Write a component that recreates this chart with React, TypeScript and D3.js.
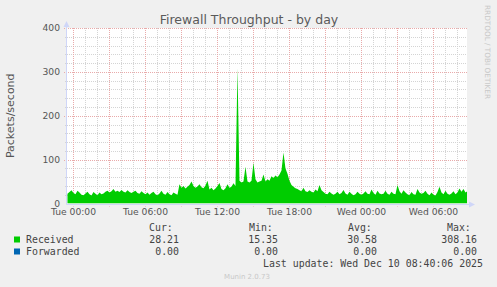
import React from 'react';
import * as d3 from 'd3';

const TITLE = 'Firewall Throughput - by day';
const Y_LABEL = 'Packets/second';
const WATERMARK = 'RRDTOOL / TOBI OETIKER';
const FOOTER = 'Munin 2.0.73';
const X_TICK_HOURS = [0, 6, 12, 18, 24, 30];
const X_TICK_LABELS = ['Tue 00:00', 'Tue 06:00', 'Tue 12:00', 'Tue 18:00', 'Wed 00:00', 'Wed 06:00'];
const Y_TICKS = [0, 100, 200, 300, 400];
const START_HOUR = -0.5; // Mon 23:30
const STEP_MIN = 10;

const RECEIVED = [
  22, 26, 30, 24, 21, 29, 25, 20, 19, 23, 27, 21, 18, 26, 22, 19, 25, 21, 23, 27,
  29, 25, 28, 33, 27, 29, 26, 31, 27, 25, 30, 26, 24, 27, 29, 24, 22, 28, 24, 21,
  25, 20, 24, 27, 21, 19, 23, 29, 22, 20, 26, 21, 19, 25, 22, 20, 44, 36, 40, 34,
  38, 42, 50, 40, 36, 39, 44, 37, 35, 41, 52, 32, 36, 30, 34, 40, 47, 33, 30, 35,
  44, 36, 38, 46, 40, 308, 52, 48, 50, 84, 50, 48, 52, 93, 55, 48, 50, 52, 66, 50,
  55, 52, 62, 58, 64, 60, 66, 75, 116, 80, 68, 52, 42, 38, 35, 33, 30, 28, 36, 28,
  26, 30, 27, 25, 32, 28, 42, 30, 26, 22, 21, 27, 23, 20, 22, 27, 21, 24, 31, 23,
  20, 27, 22, 19, 21, 27, 22, 20, 23, 28, 22, 21, 32, 24, 20, 29, 23, 21, 22, 29,
  22, 20, 27, 22, 21, 42, 28, 22, 30, 25, 21, 19, 26, 21, 20, 33, 25, 22, 24, 29,
  22, 19, 25, 20, 18, 26, 38, 25, 21, 29, 22, 20, 23, 28, 21, 25, 34, 27, 33, 25, 28,
];
const FORWARDED = RECEIVED.map(() => 0);

const SERIES_NAMES = ['Received', 'Forwarded'];
const SERIES_COLORS = ['#00cc00', '#0066b3'];
const CUR = ['28.21', '0.00'];
const MIN = ['15.35', '0.00'];
const AVG = ['30.58', '0.00'];
const MAX = ['308.16', '0.00'];
const LAST_UPDATE = 'Last update: Wed Dec 10 08:40:06 2025';

const W = 497;
const H = 287;
const PL = 67;
const PR = 467;
const PT = 28;
const PB = 203.5;

export default function App() {
  const x = d3.scaleLinear().domain([-0.54, -0.54 + 400 / 12]).range([PL, PR]);
  const y = d3.scaleLinear().domain([0, 400]).range([PB, PT]);
  const tHour = (i: number) => START_HOUR + (i * STEP_MIN) / 60;

  const area = d3
    .area<number>()
    .x((_, i) => x(tHour(i)))
    .y0(y(0))
    .y1((d) => y(d));

  const hours = d3.range(Math.ceil(x.domain()[0]), Math.floor(x.domain()[1]) + 1);
  const yGrid = d3.range(20, 401, 20);
  const px = (v: number) => Math.round(v) + 0.5;

  const sans = 'DejaVu Sans, sans-serif';
  const mono = 'DejaVu Sans Mono, monospace';
  const axisCol = '#cfd6f8';
  const majorCol = '#e9aaaa';
  const minorCol = '#d4d4d4';
  const textCol = '#555555';
  const legendCol = '#444444';

  const axisY = px(PB);
  const axisX = px(PL) - 1;

  return (
    <svg width={W} height={H} style={{ position: 'absolute', left: 0, top: 0 }}>
      <rect x={0} y={0} width={W} height={H} fill="#f0f0f0" />
      <rect x={PL} y={PT} width={PR - PL} height={PB - PT} fill="#ffffff" />
      <defs>
        <clipPath id="plot">
          <rect x={PL} y={PT - 2} width={PR - PL} height={PB - PT + 2} />
        </clipPath>
      </defs>
      {/* horizontal grid */}
      {yGrid.map((v) => {
        const major = v % 100 === 0;
        return (
          <line
            key={'h' + v}
            x1={PL - (major ? 3 : 2)}
            x2={PR}
            y1={px(y(v))}
            y2={px(y(v))}
            stroke={major ? majorCol : minorCol}
            strokeDasharray="1,1"
          />
        );
      })}
      {/* vertical grid */}
      {hours.map((h) => {
        const major = h % 3 === 0;
        return (
          <line
            key={'v' + h}
            x1={px(x(h))}
            x2={px(x(h))}
            y1={PT}
            y2={PB + (major ? 3 : 2)}
            stroke={major ? majorCol : minorCol}
            strokeDasharray="1,1"
          />
        );
      })}
      <g clipPath="url(#plot)">
        <path d={area(RECEIVED) || ''} fill={SERIES_COLORS[0]} />
        <path d={area(FORWARDED) || ''} fill={SERIES_COLORS[1]} />
      </g>
      {/* axes */}
      <line x1={axisX} x2={470} y1={axisY} y2={axisY} stroke={axisCol} />
      <polygon points={`469,${axisY - 3} 475,${axisY} 469,${axisY + 3}`} fill={axisCol} />
      <line x1={axisX} x2={axisX} y1={axisY} y2={24} stroke={axisCol} />
      <polygon points={`${axisX - 3},27 ${axisX},21 ${axisX + 3},27`} fill={axisCol} />
      {/* y tick labels */}
      {Y_TICKS.map((v) => (
        <text key={'yl' + v} x={60} y={y(v) + 3.3} textAnchor="end" fontFamily={sans} fontSize={9.2} fill={textCol}>
          {v}
        </text>
      ))}
      {/* x tick labels */}
      {X_TICK_HOURS.map((h, i) => (
        <text key={'xl' + h} x={x(h)} y={215} textAnchor="middle" fontFamily={sans} fontSize={9.2} fill={textCol}>
          {X_TICK_LABELS[i]}
        </text>
      ))}
      {/* title */}
      <text x={249} y={23.5} textAnchor="middle" fontFamily={sans} fontSize={12.5} fill="#5a5a5a">
        {TITLE}
      </text>
      {/* y label */}
      <text
        transform={`translate(13.5,${(PT + PB) / 2}) rotate(-90)`}
        textAnchor="middle"
        fontFamily={sans}
        fontSize={11}
        fill={textCol}
      >
        {Y_LABEL}
      </text>
      {/* watermark */}
      <text
        transform={`translate(485,5) rotate(90)`}
        textAnchor="start"
        fontFamily={sans}
        fontSize={7.3}
        fill="#c8c8c8"
      >
        {WATERMARK}
      </text>
      {/* legend */}
      <g fontFamily={mono} fontSize={9.9} fill={legendCol}>
        <text x={149} y={231}>Cur:</text>
        <text x={249} y={231}>Min:</text>
        <text x={348} y={231}>Avg:</text>
        <text x={447} y={231}>Max:</text>
        {SERIES_NAMES.map((name, i) => {
          const by = 243 + i * 12;
          return (
            <g key={name}>
              <rect x={14} y={by - 6.5} width={6} height={6} fill={SERIES_COLORS[i]} />
              <text x={26} y={by}>{name}</text>
              <text x={179} y={by} textAnchor="end">{CUR[i]}</text>
              <text x={278} y={by} textAnchor="end">{MIN[i]}</text>
              <text x={377} y={by} textAnchor="end">{AVG[i]}</text>
              <text x={477} y={by} textAnchor="end">{MAX[i]}</text>
            </g>
          );
        })}
        <text x={483} y={267} textAnchor="end">{LAST_UPDATE}</text>
      </g>
      <text x={247} y={279} textAnchor="middle" fontFamily={sans} fontSize={7} fill="#c8c8c8">
        {FOOTER}
      </text>
    </svg>
  );
}
